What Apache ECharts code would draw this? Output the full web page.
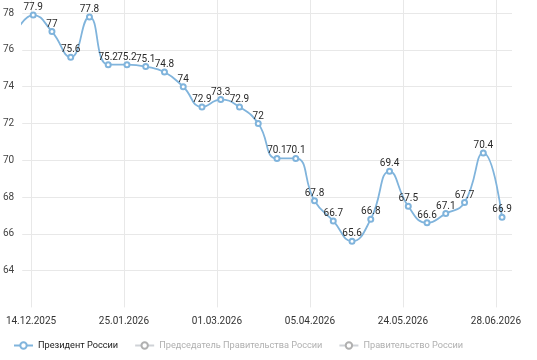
<!DOCTYPE html>
<html>
<head>
<meta charset="utf-8">
<script src="https://cdn.jsdelivr.net/npm/echarts@6/dist/echarts.min.js"></script>
<style>
  html, body { margin: 0; padding: 0; background: #fff; }
  #chart { width: 524px; height: 360px; }
</style>
</head>
<body>
<div id="chart"></div>
<script>
// даты опросов (первая точка уходит за левый край)
var dates = ['07.12.2025', '14.12.2025', '21.12.2025', '28.12.2025', '11.01.2026', '18.01.2026',
    '25.01.2026', '01.02.2026', '08.02.2026', '15.02.2026', '22.02.2026',
    '01.03.2026', '08.03.2026', '15.03.2026', '22.03.2026', '29.03.2026',
    '05.04.2026', '12.04.2026', '19.04.2026', '26.04.2026', '17.05.2026',
    '24.05.2026', '31.05.2026', '07.06.2026', '14.06.2026', '21.06.2026', '28.06.2026'];
var president = [76.8, 77.9, 77, 75.6, 77.8, 75.2, 75.2, 75.1, 74.8, 74, 72.9, 73.3, 72.9, 72,
    70.1, 70.1, 67.8, 66.7, 65.6, 66.8, 69.4, 67.5, 66.6, 67.1, 67.7, 70.4, 66.9];
var premier = [];
var government = [];
var seriesNames = ['Президент России', 'Председатель Правительства России', 'Правительство России'];

var font = 'Roboto';
var step = 471 / 25; // шаг между точками
var chart = echarts.init(document.getElementById('chart'));

var option = {
    animation: false,
    textStyle: { fontFamily: font },
    grid: [
        { left: 20, width: 492, top: 0, height: 307.4 },
        { left: 31, width: 471, top: 0, height: 307.4 }
    ],
    legend: {
        left: 13,
        top: 341,
        padding: 0,
        width: 520,
        itemWidth: 19,
        itemHeight: 8,
        itemGap: 16,
        inactiveColor: '#b0b0b0',
        textStyle: { fontSize: 9.2, color: '#1a1a1a', fontFamily: font },
        data: seriesNames,
        selected: {
            'Председатель Правительства России': false,
            'Правительство России': false
        }
    },
    xAxis: [
        {
            type: 'value',
            gridIndex: 0,
            min: 1 - 11 / step,
            max: 26 + 10 / step,
            show: false,
            splitLine: { show: false }
        },
        {
            type: 'category',
            gridIndex: 1,
            boundaryGap: false,
            data: dates.slice(1),
            axisLine: { show: false },
            axisTick: { show: false },
            axisLabel: { interval: 4, margin: 9, fontSize: 10, color: '#333', fontFamily: font },
            splitLine: { show: true, interval: 4, lineStyle: { color: '#e8e8e8' } }
        }
    ],
    yAxis: [
        {
            type: 'value',
            gridIndex: 0,
            min: 62,
            max: 78 + 13.2 / 18.39,
            interval: 2,
            axisLine: { show: false },
            axisTick: { show: false },
            axisLabel: { margin: 8, fontSize: 10, color: '#444', showMinLabel: false, showMaxLabel: false, fontFamily: font },
            splitLine: { show: true, showMinLine: false, showMaxLine: false, lineStyle: { color: '#e8e8e8' } }
        },
        {
            type: 'value',
            gridIndex: 1,
            show: false,
            splitLine: { show: false }
        }
    ],
    series: [
        {
            name: seriesNames[0],
            type: 'line',
            xAxisIndex: 0,
            yAxisIndex: 0,
            smooth: 0.5,
            clip: true,
            symbol: 'emptyCircle',
            symbolSize: 5,
            color: '#80b4dc',
            lineStyle: { width: 1.8, color: '#80b4dc' },
            itemStyle: { color: '#80b4dc', borderWidth: 1.3 },
            label: { show: true, position: 'top', distance: -1, fontSize: 10, color: '#2a2a2a', fontFamily: font },
            data: president.map(function (v, i) { return [i, v]; })
        },
        {
            name: seriesNames[1],
            type: 'line',
            xAxisIndex: 0,
            yAxisIndex: 0,
            symbol: 'emptyCircle',
            color: '#9a9a9a',
            data: premier
        },
        {
            name: seriesNames[2],
            type: 'line',
            xAxisIndex: 0,
            yAxisIndex: 0,
            symbol: 'emptyCircle',
            color: '#9a9a9a',
            data: government
        }
    ]
};
chart.setOption(option);
</script>
</body>
</html>
